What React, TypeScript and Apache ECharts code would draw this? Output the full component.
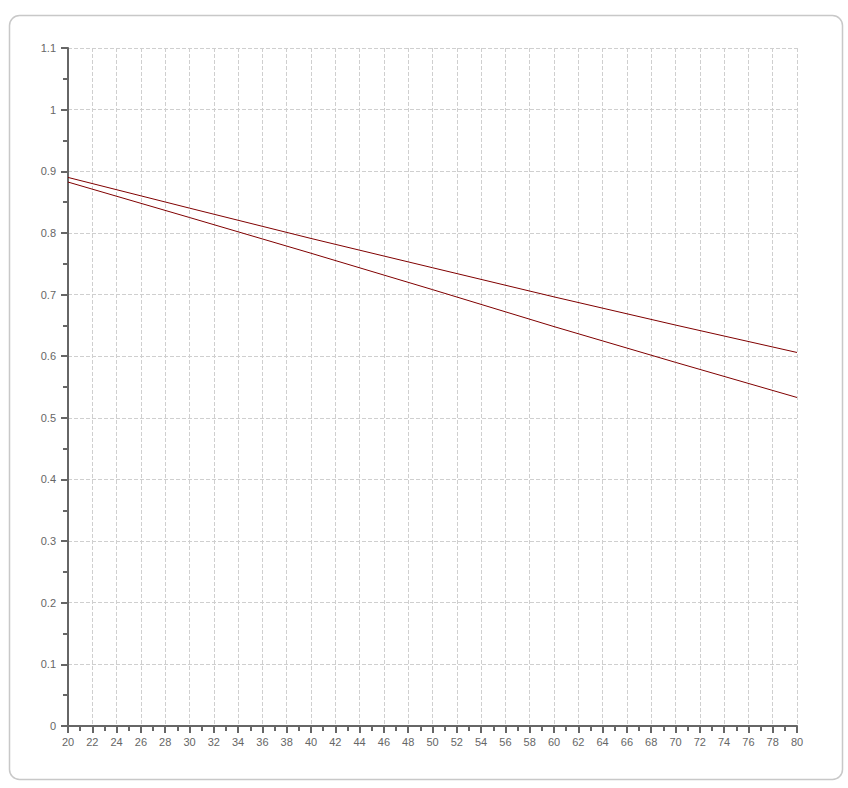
import React, { useEffect, useRef } from "react";
import * as echarts from "echarts";

const xValues = [20, 30, 40, 50, 60, 70, 80];
const seriesUpper = [0.89, 0.8402, 0.791, 0.7435, 0.6962, 0.6505, 0.606];
const seriesLower = [0.8825, 0.825, 0.767, 0.708, 0.648, 0.59, 0.533];
const lineColor = "#800000";

export default function App() {
  const ref = useRef<HTMLDivElement>(null);
  useEffect(() => {
    if (!ref.current) return;
    const chart = echarts.init(ref.current, undefined, { renderer: "svg" });
    const font = { fontFamily: "'Liberation Sans', Arial, sans-serif", fontSize: 11, color: "#666" };
    chart.setOption({
      animation: false,
      backgroundColor: "#fff",
      graphic: [
        {
          type: "rect",
          left: 7,
          top: 13,
          shape: { width: 833, height: 764, r: 10 },
          style: { fill: "none", stroke: "#c8c8c8", lineWidth: 1.5 },
          silent: true,
          z: -1,
        },
      ],
      grid: { left: 68, right: 51, top: 48, bottom: 62, containLabel: false },
      xAxis: {
        type: "value",
        min: 20,
        max: 80,
        interval: 2,
        axisLine: { show: true, onZero: false, lineStyle: { color: "#666", width: 2 } },
        axisTick: { show: true, length: 7, lineStyle: { color: "#666", width: 2 } },
        minorTick: { show: true, splitNumber: 2, length: 5, lineStyle: { color: "#666", width: 2 } },
        axisLabel: { ...font, margin: 10, formatter: (v: number) => String(Math.round(v)) },
        splitLine: { show: true, lineStyle: { color: "#cfcfcf", type: [4, 2], width: 1 } },
      },
      yAxis: {
        type: "value",
        min: 0,
        max: 1.1,
        interval: 0.1,
        axisLine: { show: true, onZero: false, lineStyle: { color: "#666", width: 2 } },
        axisTick: { show: true, length: 7, lineStyle: { color: "#666", width: 2 } },
        minorTick: { show: true, splitNumber: 2, length: 5, lineStyle: { color: "#666", width: 2 } },
        axisLabel: { ...font, margin: 12, formatter: (v: number) => String(+v.toFixed(1)) },
        splitLine: { show: true, lineStyle: { color: "#cfcfcf", type: [4, 2], width: 1 } },
      },
      series: [
        {
          type: "line",
          data: xValues.map((x, i) => [x, seriesUpper[i]]),
          showSymbol: false,
          lineStyle: { color: lineColor, width: 1 },
          itemStyle: { color: lineColor },
        },
        {
          type: "line",
          data: xValues.map((x, i) => [x, seriesLower[i]]),
          showSymbol: false,
          lineStyle: { color: lineColor, width: 1 },
          itemStyle: { color: lineColor },
        },
      ],
    });
    return () => chart.dispose();
  }, []);
  return (
    <div
      ref={ref}
      style={{ position: "fixed", left: 0, top: 0, width: 848, height: 788 }}
    />
  );
}
